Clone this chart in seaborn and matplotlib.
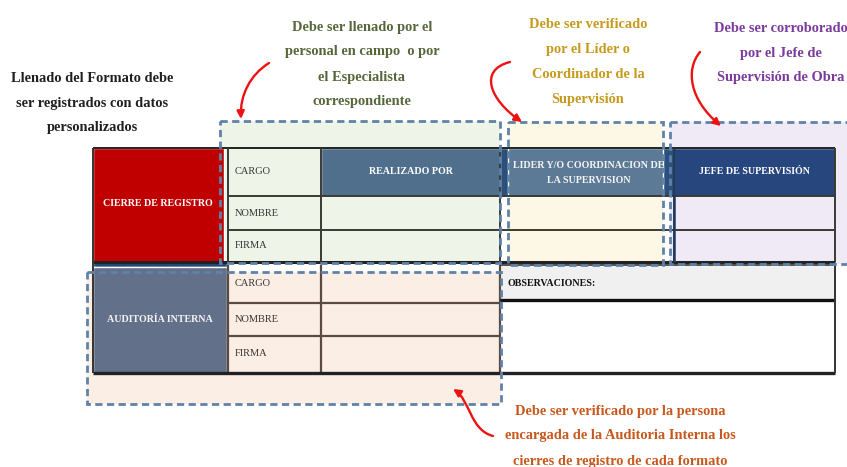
import matplotlib
matplotlib.use("Agg")
import matplotlib.pyplot as plt
from matplotlib.patches import Rectangle, FancyArrowPatch
from matplotlib.path import Path
import seaborn as sns

# Texts of the format
row_labels = ["CARGO", "NOMBRE", "FIRMA"]
section_labels = ["CIERRE DE REGISTRO", "AUDITORÍA INTERNA"]
header_labels = ["REALIZADO POR", "LIDER Y/O COORDINACION DE\nLA SUPERVISION", "JEFE DE SUPERVISIÓN"]
obs_label = "OBSERVACIONES:"

note_left = ["Llenado del Formato debe", "ser registrados con datos", "personalizados"]
note_green = ["Debe ser llenado por el", "personal en campo  o por", "el Especialista", "correspondiente"]
note_gold = ["Debe ser verificado", "por el Líder o", "Coordinador de la", "Supervisión"]
note_purple = ["Debe ser corroborado", "por el Jefe de", "Supervisión de Obra"]
note_bottom = ["Debe ser verificado por la persona", "encargada de la Auditoria Interna los",
               "cierres de registro de cada formato"]

sns.set_theme(style="white")
plt.rcParams["font.family"] = ["Liberation Serif", "DejaVu Serif"]

fig = plt.figure(figsize=(8.47, 4.67), dpi=100)
ax = fig.add_axes([0, 0, 1, 1])
ax.set_xlim(0, 847)
ax.set_ylim(467, 0)
ax.axis("off")

cols = [228, 321, 500, 674, 835]
up_rows = [148, 196, 230, 262]
lo_rows = [265, 303, 336, 373]
dash_col = "#5f82a8"


def rect(x0, y0, x1, y1, fc, z=2, **kw):
    ax.add_patch(Rectangle((x0, y0), x1 - x0, y1 - y0, facecolor=fc, zorder=z, **kw))


def hline(y, x0, x1, c="#3a3a34", lw=1.4, z=3):
    ax.plot([x0, x1], [y, y], color=c, lw=lw, zorder=z, solid_capstyle="butt")


def vline(x, y0, y1, c="#3a3a34", lw=1.4, z=3):
    ax.plot([x, x], [y0, y1], color=c, lw=lw, zorder=z, solid_capstyle="butt")


# tinted dashed regions (fills under the table)
boxes = [
    (220, 121, 500, 263, "#eef4e8"),
    (508, 122, 663, 265, "#fdf7e6"),
    (670, 122, 852, 264, "#efeaf5"),
    (87, 272, 501, 404, "#fbeee5"),
]
for x0, y0, x1, y1, fc in boxes:
    rect(x0, y0, x1, y1, fc, z=1, edgecolor="none")

# section blocks
rect(93, 148, 224, 262, "#c00000")
rect(93, 262, 227, 267, "#22497a")
rect(93, 267, 227, 373, "#637089")
ax.text(158, 204, section_labels[0], color="white", fontsize=7.2, fontweight="bold",
        ha="center", va="center", zorder=5)
ax.text(160, 319, section_labels[1], color="#f4f4f4", fontsize=7.2, fontweight="bold",
        ha="center", va="center", zorder=5)

# header cells
rect(cols[1], up_rows[0], cols[2], up_rows[1], "#4f6f8c")
rect(cols[2], up_rows[0], cols[3], up_rows[1], "#2c4f7c")
rect(508, up_rows[0], 663, up_rows[1], "#5c7a95")
rect(cols[3], up_rows[0], cols[4], up_rows[1], "#27467e")
ax.text((cols[1] + cols[2]) / 2, 172, header_labels[0], color="white", fontsize=7.2,
        fontweight="bold", ha="center", va="center", zorder=5)
ax.text((cols[2] + cols[3]) / 2 + 2, 173, header_labels[1], color="#f4f4f4", fontsize=7.2,
        fontweight="bold", ha="center", va="center", linespacing=1.9, zorder=5)
ax.text((cols[3] + cols[4]) / 2, 172, header_labels[2], color="white", fontsize=7.2,
        fontweight="bold", ha="center", va="center", zorder=5)

# upper grid
hline(up_rows[0], 93, cols[4], c="#222222")
for y in up_rows[1:3]:
    hline(y, cols[0], cols[4])
hline(up_rows[3], 93, cols[4], c="#222222", lw=2.2)
vline(93, up_rows[0], lo_rows[3], c="#333333")
for x in cols:
    vline(x, up_rows[0], up_rows[3])
vline(cols[3], up_rows[0], up_rows[3], c="#1f3a66", lw=1.8)

# lower grid
brown = "#5a4a40"
for y in lo_rows[1:3]:
    hline(y, cols[0], cols[2], c=brown, lw=1.6)
for x in cols[:3]:
    vline(x, lo_rows[0], lo_rows[3], c=brown, lw=1.6)
hline(lo_rows[3], 93, cols[4], c="#222222", lw=2.4)

# observations
rect(cols[2], lo_rows[0], cols[4], 300, "#f0f0f0")
hline(300, cols[2], cols[4], c="#111111", lw=2.4)
vline(cols[4], lo_rows[0], lo_rows[3], c="#333333")
hline(lo_rows[0], cols[2], cols[4], c="#333333", lw=1.2)
ax.text(cols[2] + 7, 283, obs_label, color="#111111", fontsize=7.2, fontweight="bold",
        ha="left", va="center", zorder=5)

# row labels
for ys, lab in zip([(up_rows[i] + up_rows[i + 1]) / 2 for i in range(3)], row_labels):
    ax.text(cols[0] + 7, ys, lab, color="#333333", fontsize=7.5, ha="left", va="center", zorder=5)
for ys, lab in zip([284, 319, 354], row_labels):
    ax.text(cols[0] + 7, ys, lab, color="#3a3330", fontsize=7.5, ha="left", va="center", zorder=5)

# dashed outlines
for x0, y0, x1, y1, fc in boxes:
    ax.add_patch(Rectangle((x0, y0), x1 - x0, y1 - y0, facecolor="none", edgecolor=dash_col,
                           lw=2, linestyle=(0, (2.6, 1.6)), zorder=4))

# notes
notes = [
    (note_left, 92, 78, "#1f1f1f"),
    (note_green, 362, 27, "#55673a"),
    (note_gold, 588, 25, "#c59a1d"),
    (note_purple, 781, 28, "#7a3a9e"),
    (note_bottom, 620, 411, "#c8581c"),
]
for lines, cx, y0, col in notes:
    for i, line in enumerate(lines):
        ax.text(cx, y0 + i * 25, line, color=col, fontsize=10.4, fontweight="bold",
                ha="center", va="center", zorder=5)

# red arrows
arrow_paths = [
    [(269, 63), (250, 75), (240, 95), (241, 119)],
    [(510, 62), (478, 70), (490, 100), (522, 122)],
    [(700, 52), (685, 70), (690, 100), (721, 126)],
    [(493, 436), (470, 430), (470, 400), (453, 389)],
]
for pts in arrow_paths:
    p = Path(pts, [Path.MOVETO, Path.CURVE4, Path.CURVE4, Path.CURVE4])
    ax.add_patch(FancyArrowPatch(path=p, arrowstyle="-|>", mutation_scale=11, color="#ee1111",
                                 lw=1.7, zorder=6))

fig.savefig("out.png", dpi=100)
